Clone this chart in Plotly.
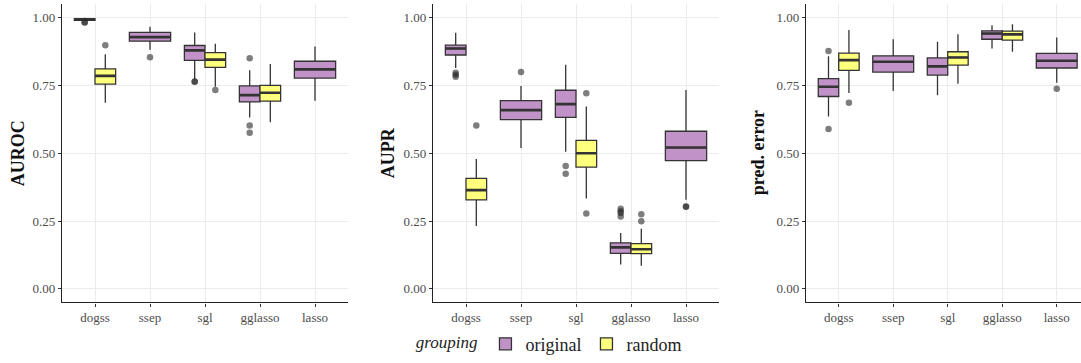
import plotly.graph_objects as go

# Methods on the x axis of every panel
categories = ["dogss", "ssep", "sgl", "gglasso", "lasso"]
metrics = ["AUROC", "AUPR", "pred. error"]
y_ticks = [0.0, 0.25, 0.5, 0.75, 1.0]

# Box summaries per method: (lower whisker, q1, median, q3, upper whisker); None = no box
auroc_original = [(0.987, 0.990, 0.993, 0.996, 0.999), (0.881, 0.913, 0.928, 0.945, 0.966),
                  (0.772, 0.842, 0.879, 0.897, 0.945), (0.632, 0.689, 0.714, 0.748, 0.806),
                  (0.693, 0.777, 0.809, 0.839, 0.893)]
auroc_random = [(0.686, 0.755, 0.785, 0.811, 0.865), None,
                (0.745, 0.816, 0.845, 0.871, 0.903), (0.614, 0.692, 0.723, 0.750, 0.829), None]
aupr_original = [(0.814, 0.862, 0.886, 0.898, 0.944), (0.519, 0.624, 0.659, 0.694, 0.748),
                 (0.505, 0.632, 0.681, 0.732, 0.826), (0.090, 0.131, 0.153, 0.170, 0.206),
                 (0.329, 0.473, 0.521, 0.581, 0.733)]
aupr_random = [(0.232, 0.328, 0.364, 0.407, 0.479), None,
               (0.333, 0.449, 0.500, 0.547, 0.672), (0.085, 0.130, 0.146, 0.167, 0.222), None]
prederr_original = [(0.635, 0.709, 0.745, 0.775, 0.857), (0.729, 0.799, 0.837, 0.859, 0.920),
                    (0.714, 0.788, 0.820, 0.851, 0.911), (0.886, 0.920, 0.941, 0.951, 0.972),
                    (0.760, 0.814, 0.841, 0.868, 0.926)]
prederr_random = [(0.722, 0.805, 0.843, 0.869, 0.954), None,
                  (0.756, 0.825, 0.853, 0.874, 0.938), (0.874, 0.917, 0.938, 0.950, 0.975), None]

# Outlying observations per method
auroc_original_out = [[0.982, 0.983], [0.854], [0.763, 0.764], [0.850, 0.602, 0.575], []]
auroc_random_out = [[0.898], [], [0.733], [], []]
aupr_original_out = [[0.797, 0.789, 0.782], [0.799], [0.453, 0.424],
                     [0.295, 0.286, 0.280, 0.267], [0.303, 0.304]]
aupr_random_out = [[0.602], [], [0.721, 0.278], [0.275, 0.249], []]
prederr_original_out = [[0.877, 0.589], [], [], [], [0.738]]
prederr_random_out = [[0.686], [], [], [], []]

panels = [
    (auroc_original, auroc_random, auroc_original_out, auroc_random_out),
    (aupr_original, aupr_random, aupr_original_out, aupr_random_out),
    (prederr_original, prederr_random, prederr_original_out, prederr_random_out),
]

groups = ["original", "random"]
fills = {"original": "#C192C7", "random": "#FFFF7E"}
line_col = "#333333"
SERIF = "Liberation Serif"

W, H = 1081, 363
# Panel extents in pixels (left, right) and common (top, bottom)
panel_px = [(62, 348), (433, 719), (806, 1081)]
x_ranges = [[-0.6, 4.6], [-0.6, 4.6], [-0.6, 4.445]]
top_px, bot_px = 4, 305
title_x_px = [18, 388, 758]

dodge_width = 0.75  # total width of the boxes at one method

fig = go.Figure()

for p, (orig, rand, orig_out, rand_out) in enumerate(panels):
    xa = "x" if p == 0 else f"x{p + 1}"
    ya = "y" if p == 0 else f"y{p + 1}"
    stats = {"original": orig, "random": rand}
    outs = {"original": orig_out, "random": rand_out}
    for gi, g in enumerate(groups):
        other = stats[groups[1 - gi]]
        # split into dodged boxes (both groups present) and full-width boxes
        for paired in (True, False):
            xs, lo, q1, md, q3, hi = [], [], [], [], [], []
            ox, oy = [], []
            for ci, row in enumerate(stats[g]):
                if row is None:
                    continue
                has_pair = other[ci] is not None
                if has_pair != paired:
                    continue
                w = dodge_width / 2 if paired else dodge_width
                pos = ci + ((gi - 0.5) * w if paired else 0.0)
                xs.append(pos)
                lo.append(row[0]); q1.append(row[1]); md.append(row[2])
                q3.append(row[3]); hi.append(row[4])
                for v in outs[g][ci]:
                    ox.append(pos); oy.append(v)
            if not xs:
                continue
            w = dodge_width / 2 if paired else dodge_width
            fig.add_trace(go.Box(
                x=xs, q1=q1, median=md, q3=q3, lowerfence=lo, upperfence=hi,
                width=w, boxpoints=False, whiskerwidth=0,
                fillcolor=fills[g], line=dict(color=line_col, width=1.3),
                name=g, legendgroup=g,
                showlegend=(p == 0 and paired),
                xaxis=xa, yaxis=ya, hoverinfo="skip",
            ))
            # thicker median bars
            mx, my = [], []
            for pos, m in zip(xs, md):
                mx += [pos - w / 2, pos + w / 2, None]
                my += [m, m, None]
            fig.add_trace(go.Scatter(
                x=mx, y=my, mode="lines", line=dict(color=line_col, width=2.6),
                showlegend=False, xaxis=xa, yaxis=ya, hoverinfo="skip",
            ))
            if ox:
                fig.add_trace(go.Scatter(
                    x=ox, y=oy, mode="markers",
                    marker=dict(color="rgba(40,40,40,0.6)", size=6.5, line=dict(width=0)),
                    showlegend=False, xaxis=xa, yaxis=ya, hoverinfo="skip",
                ))

layout = dict(
    width=W, height=H,
    margin=dict(l=0, r=0, t=0, b=0),
    paper_bgcolor="white", plot_bgcolor="white",
    font=dict(family=SERIF, color="#4D4D4D", size=13),
    boxmode="overlay",
    showlegend=True,
    legend=dict(
        orientation="h", x=0.509, xanchor="center", y=(H - 347) / H, yanchor="middle",
        title=dict(text="<i>grouping</i>", side="left",
                   font=dict(family=SERIF, size=17, color="#222222")),
        font=dict(family=SERIF, size=18, color="#222222"), itemwidth=30, tracegroupgap=0,
    ),
)

annotations = []
for p in range(3):
    sfx = "" if p == 0 else str(p + 1)
    l, r = panel_px[p]
    axis_common = dict(
        showgrid=True, gridcolor="#EBEBEB", gridwidth=1, zeroline=False,
        showline=True, linecolor="#222222", linewidth=1.2,
        ticks="outside", ticklen=3, tickcolor="#333333", tickwidth=1.1,
        tickfont=dict(family=SERIF, size=13, color="#4D4D4D"),
    )
    layout["xaxis" + sfx] = dict(
        domain=[l / W, r / W], range=x_ranges[p], anchor="y" + sfx,
        tickvals=list(range(len(categories))), ticktext=categories, **axis_common,
    )
    layout["yaxis" + sfx] = dict(
        domain=[(H - bot_px) / H, (H - top_px) / H], range=[-0.05, 1.05], anchor="x" + sfx,
        tickvals=y_ticks, ticktext=[f"{v:.2f}" for v in y_ticks], **axis_common,
    )
    annotations.append(dict(
        text=f"<b>{metrics[p]}</b>", xref="paper", yref="paper",
        x=title_x_px[p] / W, y=(H - (top_px + bot_px) / 2) / H,
        xanchor="center", yanchor="middle", textangle=-90, showarrow=False,
        font=dict(size=18, color="#111111", family=SERIF),
    ))
layout["annotations"] = annotations

fig.update_layout(**layout)
fig.write_html("out.html")
